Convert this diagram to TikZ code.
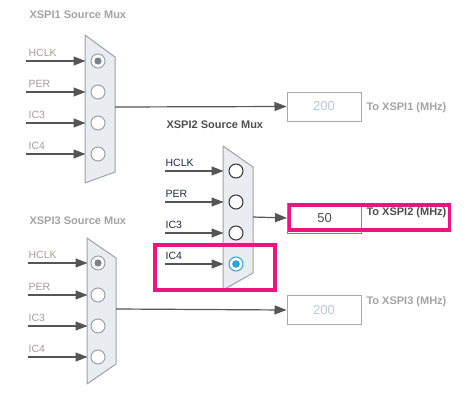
\documentclass[tikz,border=0pt]{standalone}
\usepackage{fontspec}
\setmainfont{Liberation Sans}
\usepackage{xcolor}
\usetikzlibrary{arrows.meta, positioning, fit}
\definecolor{muxfill}{HTML}{E9EDF1}
\definecolor{muxline}{HTML}{9AA2AA}
\definecolor{wiregray}{HTML}{555555}
\definecolor{fadegray}{HTML}{A29D96}
\definecolor{titlegray}{HTML}{A3A3A3}
\definecolor{darktitle}{HTML}{4E4E4E}
\definecolor{navytext}{HTML}{1C2B48}
\definecolor{fadeblue}{HTML}{B7C8E0}
\definecolor{boxgray}{HTML}{A9A9A9}
\definecolor{selblue}{HTML}{2FA4DC}
\definecolor{hlpink}{HTML}{EE1480}

\begin{document}
\begin{tikzpicture}[
  x=1pt, y=-1pt,
  every node/.style={font=\fontsize{10.5}{12}\selectfont},
  muxbody/.style={draw=muxline, fill=muxfill, line width=1pt, line join=round},
  radio/.style={circle, draw=#1, fill=white, line width=1pt, minimum size=14pt, inner sep=0pt},
  inwire/.style={-{Triangle[length=12pt, width=9pt]}, wiregray, line width=1.2pt, shorten >=5pt},
  outwire/.style={-{Triangle[length=12pt, width=9pt]}, wiregray, line width=1.2pt},
  inlabel/.style={anchor=south west, inner sep=0pt, yshift=3.5pt, text=#1},
  muxtitle/.style={font=\fontsize{11}{13}\selectfont\bfseries, anchor=west, text=#1},
  freqbox/.style={rectangle, draw=#1, fill=white, line width=1pt, minimum width=74pt, minimum height=29pt, font=\fontsize{13}{15}\selectfont},
  outlabel/.style={font=\fontsize{11}{13}\selectfont\bfseries, anchor=west, text=#1},
  hilite/.style={draw=hlpink, line width=3.5pt},
]
\useasboundingbox (0,0) rectangle (469,407);

% XSPI1 mux (faded, HCLK selected)
\node[muxtitle=titlegray] at (26,15) {XSPI1 Source Mux};
\draw[muxbody] (85,35) -- (115,57) -- (115,172) -- (85,183) -- cycle;
\coordinate (m1out) at (115,107);

\node[radio=muxline] (h1) at (98,61) {};
\node[radio=muxline] (p1) at (98,92) {};
\node[radio=muxline] (c1) at (98,123) {};
\node[radio=muxline] (d1) at (98,154) {};
\fill[muxline!80!black] (h1) circle (3.6pt);

\coordinate (h1in) at (26,61);
\coordinate (p1in) at (26,92);
\coordinate (c1in) at (26,123);
\coordinate (d1in) at (26,154);

\draw[inwire] (h1in) -- node[inlabel=fadegray, pos=0, xshift=2pt] {HCLK} (h1.west);
\draw[inwire] (p1in) -- node[inlabel=fadegray, pos=0, xshift=2pt] {PER} (p1.west);
\draw[inwire] (c1in) -- node[inlabel=fadegray, pos=0, xshift=2pt] {IC3} (c1.west);
\draw[inwire] (d1in) -- node[inlabel=fadegray, pos=0, xshift=2pt] {IC4} (d1.west);

\node[freqbox=boxgray, text=fadeblue] (f1) at (324,106.5) {200};
\node[outlabel=titlegray] (t1) at (363,108) {To XSPI1 (MHz)};
\draw[outwire] (m1out) -- (f1.west);

% XSPI2 mux (active, IC4 selected)
\node[muxtitle=darktitle] at (163,125) {XSPI2 Source Mux};
\draw[muxbody] (223,146) -- (253,167) -- (253,273) -- (223,290) -- cycle;
\coordinate (m2out) at (253,217);

\node[radio=black!80] (h2) at (236,171) {};
\node[radio=black!80] (p2) at (236,202) {};
\node[radio=black!80] (c2) at (236,233) {};
\node[radio=selblue] (d2) at (236,264) {};
\fill[selblue] (d2) circle (3.8pt);

\coordinate (h2in) at (165,171);
\coordinate (p2in) at (165,202);
\coordinate (c2in) at (165,233);
\coordinate (d2in) at (165,264);

\draw[inwire] (h2in) -- node[inlabel=navytext, pos=0] {HCLK} (h2.west);
\draw[inwire] (p2in) -- node[inlabel=navytext, pos=0] {PER} (p2.west);
\draw[inwire] (c2in) -- node[inlabel=navytext, pos=0] {IC3} (c2.west);
\draw[inwire] (d2in) -- node[inlabel=navytext, pos=0] {IC4} (d2.west);

\node[freqbox=selblue, text=darktitle, minimum height=30pt] (f2) at (324.5,218) {50};
\node[outlabel=darktitle] (t2) at (363,213) {To XSPI2 (MHz)};
\draw[outwire] (m2out) -- (f2.west);

% highlights
\draw[hilite] (289.5,205) rectangle (449.5,230);
\draw[hilite] (155,245) rectangle (275,290);

% XSPI3 mux (faded, HCLK selected)
\node[muxtitle=titlegray] at (26,221) {XSPI3 Source Mux};
\draw[muxbody] (87,238) -- (116,258) -- (116,364) -- (87,384) -- cycle;
\coordinate (m3out) at (116,309);

\node[radio=muxline] (h3) at (98,263) {};
\node[radio=muxline] (p3) at (98,295) {};
\node[radio=muxline] (c3) at (98,326) {};
\node[radio=muxline] (d3) at (98,357) {};
\fill[muxline!80!black] (h3) circle (3.6pt);

\coordinate (h3in) at (28,263);
\coordinate (p3in) at (28,295);
\coordinate (c3in) at (28,326);
\coordinate (d3in) at (28,357);

\draw[inwire, shorten >=3pt] (h3in) -- node[inlabel=fadegray, pos=0] {HCLK} (h3.west);
\draw[inwire, shorten >=3pt] (p3in) -- node[inlabel=fadegray, pos=0] {PER} (p3.west);
\draw[inwire, shorten >=3pt] (c3in) -- node[inlabel=fadegray, pos=0] {IC3} (c3.west);
\draw[inwire, shorten >=3pt] (d3in) -- node[inlabel=fadegray, pos=0] {IC4} (d3.west);

\node[freqbox=boxgray, text=fadeblue] (f3) at (324,310) {200};
\node[outlabel=titlegray] (t3) at (363,302) {To XSPI3 (MHz)};
\draw[outwire] (m3out) -- (f3.west);

\end{tikzpicture}
\end{document}
